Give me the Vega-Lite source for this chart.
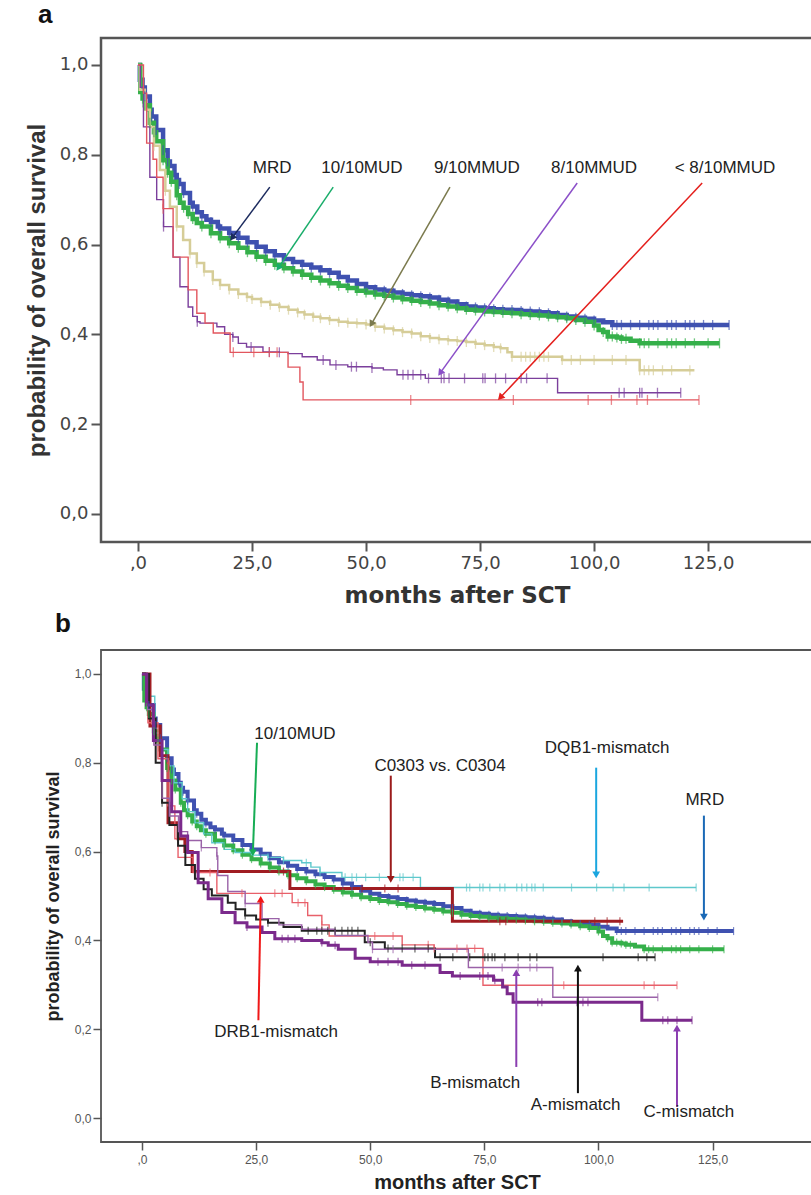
{
"$schema":"https://vega.github.io/schema/vega-lite/v6.json",
"background":"white",
"padding":{"left":24,"top":0,"right":0,"bottom":0},
"bounds":"flush",
"spacing":108,
"config":{"font":"Liberation Sans"},
"resolve":{"scale":{"color":"independent","stroke":"independent","fill":"independent"}},
"datasets":{
"km":[
{"g":"MRD","t":0,"s":1,"c":0},{"g":"MRD","t":0.4,"s":0.967,"c":0},{"g":"MRD","t":1,"s":0.95,"c":0},{"g":"MRD","t":1.5,"s":0.93,"c":1},{"g":"MRD","t":2.6,"s":0.9,"c":0},{"g":"MRD","t":3,"s":0.885,"c":1},{"g":"MRD","t":4,"s":0.855,"c":1},{"g":"MRD","t":5.5,"s":0.81,"c":1},{"g":"MRD","t":6.5,"s":0.785,"c":1},{"g":"MRD","t":7,"s":0.775,"c":0},{"g":"MRD","t":8,"s":0.755,"c":1},{"g":"MRD","t":8.5,"s":0.744,"c":0},{"g":"MRD","t":9,"s":0.735,"c":1},{"g":"MRD","t":10,"s":0.715,"c":1},{"g":"MRD","t":11.4,"s":0.693,"c":0},{"g":"MRD","t":12,"s":0.685,"c":1},{"g":"MRD","t":13,"s":0.672,"c":0},{"g":"MRD","t":14,"s":0.663,"c":1},{"g":"MRD","t":15,"s":0.655,"c":0},{"g":"MRD","t":16,"s":0.65,"c":1},{"g":"MRD","t":17.5,"s":0.64,"c":0},{"g":"MRD","t":18,"s":0.636,"c":1},{"g":"MRD","t":20,"s":0.626,"c":1},{"g":"MRD","t":22,"s":0.615,"c":1},{"g":"MRD","t":24,"s":0.605,"c":1},{"g":"MRD","t":26,"s":0.595,"c":1},{"g":"MRD","t":28,"s":0.585,"c":1},{"g":"MRD","t":30,"s":0.576,"c":1},{"g":"MRD","t":32,"s":0.568,"c":1},{"g":"MRD","t":34,"s":0.561,"c":1},{"g":"MRD","t":36,"s":0.555,"c":1},{"g":"MRD","t":38,"s":0.549,"c":1},{"g":"MRD","t":40,"s":0.543,"c":1},{"g":"MRD","t":42,"s":0.537,"c":1},{"g":"MRD","t":44,"s":0.528,"c":1},{"g":"MRD","t":46,"s":0.52,"c":1},{"g":"MRD","t":48,"s":0.512,"c":1},{"g":"MRD","t":50,"s":0.505,"c":1},{"g":"MRD","t":52,"s":0.5,"c":1},{"g":"MRD","t":54,"s":0.497,"c":1},{"g":"MRD","t":56,"s":0.493,"c":1},{"g":"MRD","t":58,"s":0.49,"c":1},{"g":"MRD","t":60,"s":0.487,"c":1},{"g":"MRD","t":62,"s":0.485,"c":1},{"g":"MRD","t":64,"s":0.482,"c":1},{"g":"MRD","t":66,"s":0.477,"c":1},{"g":"MRD","t":68,"s":0.473,"c":1},{"g":"MRD","t":70,"s":0.467,"c":1},{"g":"MRD","t":72,"s":0.462,"c":1},{"g":"MRD","t":74,"s":0.46,"c":1},{"g":"MRD","t":76,"s":0.458,"c":1},{"g":"MRD","t":78,"s":0.456,"c":1},{"g":"MRD","t":80,"s":0.455,"c":1},{"g":"MRD","t":82,"s":0.454,"c":1},{"g":"MRD","t":84,"s":0.452,"c":1},{"g":"MRD","t":86,"s":0.451,"c":1},{"g":"MRD","t":88,"s":0.449,"c":1},{"g":"MRD","t":90,"s":0.447,"c":1},{"g":"MRD","t":92,"s":0.443,"c":1},{"g":"MRD","t":94,"s":0.44,"c":1},{"g":"MRD","t":96,"s":0.437,"c":1},{"g":"MRD","t":98,"s":0.435,"c":1},{"g":"MRD","t":100,"s":0.431,"c":1},{"g":"MRD","t":102,"s":0.427,"c":0},{"g":"MRD","t":104,"s":0.421,"c":1},{"g":"MRD","t":105,"s":0.421,"c":1},{"g":"MRD","t":106,"s":0.421,"c":1},{"g":"MRD","t":108,"s":0.421,"c":1},{"g":"MRD","t":110,"s":0.421,"c":1},{"g":"MRD","t":112,"s":0.421,"c":1},{"g":"MRD","t":113,"s":0.421,"c":1},{"g":"MRD","t":114,"s":0.421,"c":1},{"g":"MRD","t":116,"s":0.421,"c":1},{"g":"MRD","t":117,"s":0.421,"c":1},{"g":"MRD","t":118,"s":0.421,"c":1},{"g":"MRD","t":120,"s":0.421,"c":1},{"g":"MRD","t":121,"s":0.421,"c":1},{"g":"MRD","t":122,"s":0.421,"c":1},{"g":"MRD","t":124,"s":0.421,"c":1},{"g":"MRD","t":126,"s":0.421,"c":1},{"g":"MRD","t":129.6,"s":0.421,"c":1},
{"g":"10/10MUD","t":0,"s":1,"c":0},{"g":"10/10MUD","t":0.5,"s":0.94,"c":0},{"g":"10/10MUD","t":1,"s":0.925,"c":1},{"g":"10/10MUD","t":1.5,"s":0.91,"c":1},{"g":"10/10MUD","t":2.6,"s":0.871,"c":1},{"g":"10/10MUD","t":3.5,"s":0.85,"c":1},{"g":"10/10MUD","t":4,"s":0.83,"c":0},{"g":"10/10MUD","t":5.5,"s":0.788,"c":1},{"g":"10/10MUD","t":6.5,"s":0.76,"c":1},{"g":"10/10MUD","t":7.3,"s":0.74,"c":1},{"g":"10/10MUD","t":8.5,"s":0.71,"c":1},{"g":"10/10MUD","t":9.2,"s":0.693,"c":0},{"g":"10/10MUD","t":10,"s":0.682,"c":1},{"g":"10/10MUD","t":11,"s":0.668,"c":1},{"g":"10/10MUD","t":12,"s":0.657,"c":1},{"g":"10/10MUD","t":12.9,"s":0.648,"c":0},{"g":"10/10MUD","t":14,"s":0.64,"c":1},{"g":"10/10MUD","t":16,"s":0.625,"c":1},{"g":"10/10MUD","t":18,"s":0.614,"c":1},{"g":"10/10MUD","t":20,"s":0.603,"c":1},{"g":"10/10MUD","t":22,"s":0.593,"c":1},{"g":"10/10MUD","t":24,"s":0.583,"c":1},{"g":"10/10MUD","t":26,"s":0.573,"c":1},{"g":"10/10MUD","t":28,"s":0.564,"c":1},{"g":"10/10MUD","t":30,"s":0.555,"c":1},{"g":"10/10MUD","t":32,"s":0.547,"c":1},{"g":"10/10MUD","t":34,"s":0.54,"c":1},{"g":"10/10MUD","t":36,"s":0.533,"c":1},{"g":"10/10MUD","t":38,"s":0.526,"c":1},{"g":"10/10MUD","t":40,"s":0.52,"c":1},{"g":"10/10MUD","t":42,"s":0.514,"c":1},{"g":"10/10MUD","t":44,"s":0.508,"c":1},{"g":"10/10MUD","t":46,"s":0.503,"c":1},{"g":"10/10MUD","t":48,"s":0.497,"c":1},{"g":"10/10MUD","t":50,"s":0.493,"c":1},{"g":"10/10MUD","t":52,"s":0.489,"c":1},{"g":"10/10MUD","t":54,"s":0.486,"c":1},{"g":"10/10MUD","t":56,"s":0.482,"c":1},{"g":"10/10MUD","t":58,"s":0.478,"c":1},{"g":"10/10MUD","t":60,"s":0.475,"c":1},{"g":"10/10MUD","t":62,"s":0.472,"c":1},{"g":"10/10MUD","t":64,"s":0.469,"c":1},{"g":"10/10MUD","t":66,"s":0.465,"c":1},{"g":"10/10MUD","t":68,"s":0.462,"c":1},{"g":"10/10MUD","t":70,"s":0.458,"c":1},{"g":"10/10MUD","t":72,"s":0.455,"c":1},{"g":"10/10MUD","t":74,"s":0.453,"c":1},{"g":"10/10MUD","t":76,"s":0.451,"c":1},{"g":"10/10MUD","t":78,"s":0.45,"c":1},{"g":"10/10MUD","t":80,"s":0.448,"c":1},{"g":"10/10MUD","t":82,"s":0.447,"c":1},{"g":"10/10MUD","t":84,"s":0.445,"c":1},{"g":"10/10MUD","t":86,"s":0.443,"c":1},{"g":"10/10MUD","t":88,"s":0.442,"c":1},{"g":"10/10MUD","t":90,"s":0.44,"c":1},{"g":"10/10MUD","t":92,"s":0.438,"c":1},{"g":"10/10MUD","t":94,"s":0.436,"c":1},{"g":"10/10MUD","t":96,"s":0.432,"c":1},{"g":"10/10MUD","t":98,"s":0.428,"c":1},{"g":"10/10MUD","t":100,"s":0.42,"c":1},{"g":"10/10MUD","t":101,"s":0.41,"c":0},{"g":"10/10MUD","t":102,"s":0.405,"c":1},{"g":"10/10MUD","t":103,"s":0.395,"c":1},{"g":"10/10MUD","t":104,"s":0.395,"c":1},{"g":"10/10MUD","t":105,"s":0.393,"c":1},{"g":"10/10MUD","t":106,"s":0.39,"c":1},{"g":"10/10MUD","t":107,"s":0.39,"c":1},{"g":"10/10MUD","t":108,"s":0.386,"c":0},{"g":"10/10MUD","t":110,"s":0.38,"c":1},{"g":"10/10MUD","t":111,"s":0.38,"c":1},{"g":"10/10MUD","t":112,"s":0.38,"c":1},{"g":"10/10MUD","t":114,"s":0.38,"c":1},{"g":"10/10MUD","t":116,"s":0.38,"c":1},{"g":"10/10MUD","t":117,"s":0.38,"c":1},{"g":"10/10MUD","t":118,"s":0.38,"c":1},{"g":"10/10MUD","t":120,"s":0.38,"c":1},{"g":"10/10MUD","t":122,"s":0.38,"c":1},{"g":"10/10MUD","t":125,"s":0.38,"c":1},{"g":"10/10MUD","t":127.5,"s":0.38,"c":1},
{"g":"9/10MMUD","t":0,"s":1,"c":0},{"g":"9/10MMUD","t":0.4,"s":0.945,"c":0},{"g":"9/10MMUD","t":1.5,"s":0.9,"c":0},{"g":"9/10MMUD","t":2.6,"s":0.862,"c":0},{"g":"9/10MMUD","t":3.5,"s":0.82,"c":1},{"g":"9/10MMUD","t":4.8,"s":0.766,"c":0},{"g":"9/10MMUD","t":6,"s":0.72,"c":1},{"g":"9/10MMUD","t":7,"s":0.684,"c":0},{"g":"9/10MMUD","t":8.5,"s":0.64,"c":1},{"g":"9/10MMUD","t":9.9,"s":0.61,"c":0},{"g":"9/10MMUD","t":11.4,"s":0.58,"c":1},{"g":"9/10MMUD","t":12.9,"s":0.559,"c":1},{"g":"9/10MMUD","t":14.5,"s":0.54,"c":1},{"g":"9/10MMUD","t":16.4,"s":0.521,"c":1},{"g":"9/10MMUD","t":18,"s":0.51,"c":1},{"g":"9/10MMUD","t":20,"s":0.5,"c":1},{"g":"9/10MMUD","t":22,"s":0.49,"c":1},{"g":"9/10MMUD","t":23.9,"s":0.483,"c":1},{"g":"9/10MMUD","t":25,"s":0.479,"c":1},{"g":"9/10MMUD","t":27,"s":0.472,"c":1},{"g":"9/10MMUD","t":29,"s":0.466,"c":1},{"g":"9/10MMUD","t":31,"s":0.461,"c":1},{"g":"9/10MMUD","t":33,"s":0.455,"c":1},{"g":"9/10MMUD","t":35,"s":0.449,"c":1},{"g":"9/10MMUD","t":36.5,"s":0.444,"c":1},{"g":"9/10MMUD","t":38.4,"s":0.439,"c":1},{"g":"9/10MMUD","t":40,"s":0.436,"c":1},{"g":"9/10MMUD","t":42,"s":0.432,"c":1},{"g":"9/10MMUD","t":44,"s":0.428,"c":1},{"g":"9/10MMUD","t":46,"s":0.426,"c":1},{"g":"9/10MMUD","t":48,"s":0.425,"c":1},{"g":"9/10MMUD","t":50,"s":0.422,"c":1},{"g":"9/10MMUD","t":52,"s":0.417,"c":1},{"g":"9/10MMUD","t":54,"s":0.413,"c":1},{"g":"9/10MMUD","t":56,"s":0.409,"c":1},{"g":"9/10MMUD","t":58,"s":0.405,"c":1},{"g":"9/10MMUD","t":60,"s":0.402,"c":1},{"g":"9/10MMUD","t":62,"s":0.396,"c":1},{"g":"9/10MMUD","t":64,"s":0.392,"c":1},{"g":"9/10MMUD","t":66,"s":0.389,"c":1},{"g":"9/10MMUD","t":68,"s":0.387,"c":1},{"g":"9/10MMUD","t":70,"s":0.385,"c":1},{"g":"9/10MMUD","t":72,"s":0.383,"c":1},{"g":"9/10MMUD","t":74,"s":0.379,"c":1},{"g":"9/10MMUD","t":76,"s":0.376,"c":1},{"g":"9/10MMUD","t":78,"s":0.372,"c":1},{"g":"9/10MMUD","t":79.5,"s":0.369,"c":1},{"g":"9/10MMUD","t":81,"s":0.36,"c":0},{"g":"9/10MMUD","t":82,"s":0.35,"c":1},{"g":"9/10MMUD","t":84,"s":0.35,"c":1},{"g":"9/10MMUD","t":85,"s":0.35,"c":1},{"g":"9/10MMUD","t":86,"s":0.35,"c":1},{"g":"9/10MMUD","t":87,"s":0.35,"c":1},{"g":"9/10MMUD","t":88,"s":0.35,"c":1},{"g":"9/10MMUD","t":89,"s":0.35,"c":1},{"g":"9/10MMUD","t":90,"s":0.35,"c":1},{"g":"9/10MMUD","t":92,"s":0.35,"c":0},{"g":"9/10MMUD","t":93,"s":0.343,"c":1},{"g":"9/10MMUD","t":95,"s":0.343,"c":1},{"g":"9/10MMUD","t":97,"s":0.343,"c":1},{"g":"9/10MMUD","t":100,"s":0.343,"c":1},{"g":"9/10MMUD","t":104,"s":0.343,"c":1},{"g":"9/10MMUD","t":107,"s":0.343,"c":1},{"g":"9/10MMUD","t":109,"s":0.343,"c":0},{"g":"9/10MMUD","t":110,"s":0.32,"c":1},{"g":"9/10MMUD","t":111,"s":0.32,"c":1},{"g":"9/10MMUD","t":112,"s":0.32,"c":1},{"g":"9/10MMUD","t":113,"s":0.32,"c":1},{"g":"9/10MMUD","t":115,"s":0.32,"c":1},{"g":"9/10MMUD","t":117,"s":0.32,"c":1},{"g":"9/10MMUD","t":121,"s":0.32,"c":1},{"g":"9/10MMUD","t":122,"s":0.32,"c":0},
{"g":"8/10MMUD","t":0,"s":1,"c":0},{"g":"8/10MMUD","t":0.5,"s":0.95,"c":0},{"g":"8/10MMUD","t":1.2,"s":0.862,"c":0},{"g":"8/10MMUD","t":2.6,"s":0.75,"c":0},{"g":"8/10MMUD","t":4.1,"s":0.7,"c":0},{"g":"8/10MMUD","t":5.6,"s":0.64,"c":1},{"g":"8/10MMUD","t":7.7,"s":0.572,"c":0},{"g":"8/10MMUD","t":9.2,"s":0.506,"c":0},{"g":"8/10MMUD","t":11,"s":0.461,"c":0},{"g":"8/10MMUD","t":12,"s":0.44,"c":0},{"g":"8/10MMUD","t":13,"s":0.428,"c":1},{"g":"8/10MMUD","t":13.6,"s":0.425,"c":0},{"g":"8/10MMUD","t":17.3,"s":0.417,"c":0},{"g":"8/10MMUD","t":19,"s":0.4,"c":0},{"g":"8/10MMUD","t":20.8,"s":0.394,"c":1},{"g":"8/10MMUD","t":22,"s":0.38,"c":0},{"g":"8/10MMUD","t":23.8,"s":0.372,"c":0},{"g":"8/10MMUD","t":24.8,"s":0.372,"c":1},{"g":"8/10MMUD","t":27.4,"s":0.361,"c":0},{"g":"8/10MMUD","t":28.8,"s":0.361,"c":1},{"g":"8/10MMUD","t":31,"s":0.36,"c":1},{"g":"8/10MMUD","t":32.9,"s":0.357,"c":0},{"g":"8/10MMUD","t":36,"s":0.35,"c":0},{"g":"8/10MMUD","t":39.3,"s":0.343,"c":0},{"g":"8/10MMUD","t":40.6,"s":0.343,"c":1},{"g":"8/10MMUD","t":42.1,"s":0.332,"c":0},{"g":"8/10MMUD","t":43.4,"s":0.332,"c":1},{"g":"8/10MMUD","t":46,"s":0.328,"c":0},{"g":"8/10MMUD","t":46.8,"s":0.328,"c":1},{"g":"8/10MMUD","t":47.9,"s":0.328,"c":1},{"g":"8/10MMUD","t":51.3,"s":0.325,"c":1},{"g":"8/10MMUD","t":53.8,"s":0.321,"c":0},{"g":"8/10MMUD","t":56.8,"s":0.31,"c":0},{"g":"8/10MMUD","t":58.1,"s":0.31,"c":1},{"g":"8/10MMUD","t":59.2,"s":0.31,"c":1},{"g":"8/10MMUD","t":60.3,"s":0.31,"c":1},{"g":"8/10MMUD","t":62,"s":0.31,"c":1},{"g":"8/10MMUD","t":63,"s":0.302,"c":0},{"g":"8/10MMUD","t":63.7,"s":0.302,"c":1},{"g":"8/10MMUD","t":66.5,"s":0.302,"c":1},{"g":"8/10MMUD","t":67.1,"s":0.302,"c":1},{"g":"8/10MMUD","t":68.2,"s":0.302,"c":1},{"g":"8/10MMUD","t":71.6,"s":0.302,"c":1},{"g":"8/10MMUD","t":75.6,"s":0.302,"c":1},{"g":"8/10MMUD","t":76.1,"s":0.302,"c":1},{"g":"8/10MMUD","t":78.4,"s":0.302,"c":1},{"g":"8/10MMUD","t":80.6,"s":0.302,"c":1},{"g":"8/10MMUD","t":84,"s":0.302,"c":1},{"g":"8/10MMUD","t":85.2,"s":0.302,"c":1},{"g":"8/10MMUD","t":89.7,"s":0.302,"c":1},{"g":"8/10MMUD","t":91.4,"s":0.302,"c":0},{"g":"8/10MMUD","t":92,"s":0.27,"c":0},{"g":"8/10MMUD","t":105.5,"s":0.27,"c":1},{"g":"8/10MMUD","t":106.6,"s":0.27,"c":1},{"g":"8/10MMUD","t":110,"s":0.27,"c":1},{"g":"8/10MMUD","t":110.5,"s":0.27,"c":1},{"g":"8/10MMUD","t":113.9,"s":0.27,"c":1},{"g":"8/10MMUD","t":119,"s":0.27,"c":1},
{"g":"<8/10MMUD","t":0,"s":1,"c":0},{"g":"<8/10MMUD","t":1.2,"s":0.937,"c":0},{"g":"<8/10MMUD","t":1.9,"s":0.826,"c":0},{"g":"<8/10MMUD","t":3.3,"s":0.79,"c":0},{"g":"<8/10MMUD","t":4.1,"s":0.75,"c":0},{"g":"<8/10MMUD","t":5.5,"s":0.68,"c":1},{"g":"<8/10MMUD","t":7.7,"s":0.572,"c":0},{"g":"<8/10MMUD","t":11,"s":0.499,"c":0},{"g":"<8/10MMUD","t":12.9,"s":0.447,"c":0},{"g":"<8/10MMUD","t":14.7,"s":0.425,"c":0},{"g":"<8/10MMUD","t":16.5,"s":0.403,"c":0},{"g":"<8/10MMUD","t":20.2,"s":0.36,"c":0},{"g":"<8/10MMUD","t":20.9,"s":0.36,"c":1},{"g":"<8/10MMUD","t":25.4,"s":0.36,"c":1},{"g":"<8/10MMUD","t":28.8,"s":0.36,"c":1},{"g":"<8/10MMUD","t":30.5,"s":0.36,"c":1},{"g":"<8/10MMUD","t":32.9,"s":0.327,"c":0},{"g":"<8/10MMUD","t":35.5,"s":0.294,"c":0},{"g":"<8/10MMUD","t":36.2,"s":0.254,"c":0},{"g":"<8/10MMUD","t":59.8,"s":0.254,"c":1},{"g":"<8/10MMUD","t":82.3,"s":0.254,"c":1},{"g":"<8/10MMUD","t":98.7,"s":0.254,"c":1},{"g":"<8/10MMUD","t":103.8,"s":0.254,"c":1},{"g":"<8/10MMUD","t":109.4,"s":0.254,"c":1},{"g":"<8/10MMUD","t":111.7,"s":0.254,"c":1},{"g":"<8/10MMUD","t":123,"s":0.254,"c":1},
{"g":"DQB1-mismatch","t":0,"s":1,"c":0},{"g":"DQB1-mismatch","t":1,"s":0.95,"c":0},{"g":"DQB1-mismatch","t":2.8,"s":0.867,"c":0},{"g":"DQB1-mismatch","t":4,"s":0.83,"c":0},{"g":"DQB1-mismatch","t":5.7,"s":0.793,"c":0},{"g":"DQB1-mismatch","t":7,"s":0.755,"c":0},{"g":"DQB1-mismatch","t":8.8,"s":0.719,"c":0},{"g":"DQB1-mismatch","t":10,"s":0.69,"c":0},{"g":"DQB1-mismatch","t":11.6,"s":0.665,"c":0},{"g":"DQB1-mismatch","t":13.5,"s":0.64,"c":0},{"g":"DQB1-mismatch","t":15.3,"s":0.62,"c":0},{"g":"DQB1-mismatch","t":18,"s":0.605,"c":0},{"g":"DQB1-mismatch","t":20.4,"s":0.598,"c":0},{"g":"DQB1-mismatch","t":24,"s":0.592,"c":0},{"g":"DQB1-mismatch","t":27.6,"s":0.587,"c":1},{"g":"DQB1-mismatch","t":31,"s":0.58,"c":1},{"g":"DQB1-mismatch","t":35,"s":0.575,"c":0},{"g":"DQB1-mismatch","t":36,"s":0.575,"c":1},{"g":"DQB1-mismatch","t":37,"s":0.565,"c":0},{"g":"DQB1-mismatch","t":39,"s":0.553,"c":1},{"g":"DQB1-mismatch","t":43.8,"s":0.542,"c":0},{"g":"DQB1-mismatch","t":44.5,"s":0.542,"c":1},{"g":"DQB1-mismatch","t":46,"s":0.542,"c":1},{"g":"DQB1-mismatch","t":47,"s":0.542,"c":1},{"g":"DQB1-mismatch","t":49,"s":0.542,"c":1},{"g":"DQB1-mismatch","t":52,"s":0.542,"c":1},{"g":"DQB1-mismatch","t":56.5,"s":0.542,"c":1},{"g":"DQB1-mismatch","t":57.2,"s":0.542,"c":1},{"g":"DQB1-mismatch","t":59.4,"s":0.542,"c":1},{"g":"DQB1-mismatch","t":61,"s":0.519,"c":0},{"g":"DQB1-mismatch","t":71.1,"s":0.519,"c":1},{"g":"DQB1-mismatch","t":71.8,"s":0.519,"c":1},{"g":"DQB1-mismatch","t":74,"s":0.519,"c":1},{"g":"DQB1-mismatch","t":74.7,"s":0.519,"c":1},{"g":"DQB1-mismatch","t":76.2,"s":0.519,"c":1},{"g":"DQB1-mismatch","t":78.4,"s":0.519,"c":1},{"g":"DQB1-mismatch","t":79.5,"s":0.519,"c":1},{"g":"DQB1-mismatch","t":82.1,"s":0.519,"c":1},{"g":"DQB1-mismatch","t":83.2,"s":0.519,"c":1},{"g":"DQB1-mismatch","t":84.3,"s":0.519,"c":1},{"g":"DQB1-mismatch","t":85.4,"s":0.519,"c":1},{"g":"DQB1-mismatch","t":86.1,"s":0.519,"c":1},{"g":"DQB1-mismatch","t":87.9,"s":0.519,"c":1},{"g":"DQB1-mismatch","t":94.1,"s":0.519,"c":1},{"g":"DQB1-mismatch","t":99.6,"s":0.519,"c":1},{"g":"DQB1-mismatch","t":103.2,"s":0.519,"c":1},{"g":"DQB1-mismatch","t":105.6,"s":0.519,"c":1},{"g":"DQB1-mismatch","t":111.1,"s":0.519,"c":1},{"g":"DQB1-mismatch","t":121.4,"s":0.519,"c":1},
{"g":"C0303 vs. C0304","t":0,"s":1,"c":0},{"g":"C0303 vs. C0304","t":1.75,"s":0.883,"c":0},{"g":"C0303 vs. C0304","t":4,"s":0.816,"c":0},{"g":"C0303 vs. C0304","t":5.7,"s":0.665,"c":0},{"g":"C0303 vs. C0304","t":7.9,"s":0.629,"c":0},{"g":"C0303 vs. C0304","t":9.4,"s":0.6,"c":0},{"g":"C0303 vs. C0304","t":11,"s":0.555,"c":0},{"g":"C0303 vs. C0304","t":31,"s":0.555,"c":1},{"g":"C0303 vs. C0304","t":32.4,"s":0.517,"c":0},{"g":"C0303 vs. C0304","t":48.2,"s":0.517,"c":1},{"g":"C0303 vs. C0304","t":53.2,"s":0.517,"c":1},{"g":"C0303 vs. C0304","t":56.1,"s":0.517,"c":1},{"g":"C0303 vs. C0304","t":68,"s":0.443,"c":0},{"g":"C0303 vs. C0304","t":78.4,"s":0.443,"c":1},{"g":"C0303 vs. C0304","t":79.7,"s":0.443,"c":1},{"g":"C0303 vs. C0304","t":99.2,"s":0.443,"c":1},{"g":"C0303 vs. C0304","t":101.9,"s":0.443,"c":1},{"g":"C0303 vs. C0304","t":104.7,"s":0.443,"c":1},{"g":"C0303 vs. C0304","t":105.4,"s":0.443,"c":0},
{"g":"DRB1-mismatch","t":0,"s":1,"c":0},{"g":"DRB1-mismatch","t":1.3,"s":0.89,"c":0},{"g":"DRB1-mismatch","t":3.5,"s":0.809,"c":0},{"g":"DRB1-mismatch","t":5.7,"s":0.703,"c":0},{"g":"DRB1-mismatch","t":7.2,"s":0.629,"c":0},{"g":"DRB1-mismatch","t":7.9,"s":0.587,"c":0},{"g":"DRB1-mismatch","t":11.2,"s":0.553,"c":0},{"g":"DRB1-mismatch","t":14.9,"s":0.553,"c":1},{"g":"DRB1-mismatch","t":16.4,"s":0.506,"c":0},{"g":"DRB1-mismatch","t":21.9,"s":0.506,"c":1},{"g":"DRB1-mismatch","t":29.1,"s":0.506,"c":1},{"g":"DRB1-mismatch","t":30.7,"s":0.506,"c":1},{"g":"DRB1-mismatch","t":32.9,"s":0.485,"c":0},{"g":"DRB1-mismatch","t":34.2,"s":0.485,"c":1},{"g":"DRB1-mismatch","t":35.7,"s":0.485,"c":1},{"g":"DRB1-mismatch","t":36.3,"s":0.456,"c":0},{"g":"DRB1-mismatch","t":39.4,"s":0.435,"c":1},{"g":"DRB1-mismatch","t":41,"s":0.41,"c":0},{"g":"DRB1-mismatch","t":51,"s":0.41,"c":1},{"g":"DRB1-mismatch","t":55,"s":0.41,"c":1},{"g":"DRB1-mismatch","t":57,"s":0.39,"c":0},{"g":"DRB1-mismatch","t":62.7,"s":0.39,"c":1},{"g":"DRB1-mismatch","t":64,"s":0.382,"c":1},{"g":"DRB1-mismatch","t":69,"s":0.382,"c":1},{"g":"DRB1-mismatch","t":71.2,"s":0.382,"c":1},{"g":"DRB1-mismatch","t":72.9,"s":0.382,"c":1},{"g":"DRB1-mismatch","t":74.7,"s":0.299,"c":0},{"g":"DRB1-mismatch","t":92.4,"s":0.299,"c":1},{"g":"DRB1-mismatch","t":110,"s":0.299,"c":1},{"g":"DRB1-mismatch","t":112.2,"s":0.299,"c":1},{"g":"DRB1-mismatch","t":117.2,"s":0.299,"c":1},
{"g":"A-mismatch","t":0,"s":1,"c":0},{"g":"A-mismatch","t":1.5,"s":0.9,"c":0},{"g":"A-mismatch","t":3,"s":0.8,"c":0},{"g":"A-mismatch","t":4.4,"s":0.71,"c":1},{"g":"A-mismatch","t":6,"s":0.66,"c":0},{"g":"A-mismatch","t":7.9,"s":0.613,"c":0},{"g":"A-mismatch","t":9.5,"s":0.57,"c":0},{"g":"A-mismatch","t":11.6,"s":0.539,"c":0},{"g":"A-mismatch","t":13.5,"s":0.515,"c":0},{"g":"A-mismatch","t":15.3,"s":0.501,"c":0},{"g":"A-mismatch","t":18.8,"s":0.485,"c":0},{"g":"A-mismatch","t":20.5,"s":0.47,"c":0},{"g":"A-mismatch","t":22.6,"s":0.456,"c":1},{"g":"A-mismatch","t":25,"s":0.447,"c":0},{"g":"A-mismatch","t":27.6,"s":0.44,"c":1},{"g":"A-mismatch","t":31,"s":0.43,"c":0},{"g":"A-mismatch","t":35,"s":0.422,"c":0},{"g":"A-mismatch","t":36.4,"s":0.422,"c":1},{"g":"A-mismatch","t":38.3,"s":0.422,"c":1},{"g":"A-mismatch","t":39.4,"s":0.422,"c":1},{"g":"A-mismatch","t":40.7,"s":0.422,"c":1},{"g":"A-mismatch","t":42.3,"s":0.422,"c":1},{"g":"A-mismatch","t":43.8,"s":0.422,"c":1},{"g":"A-mismatch","t":45.1,"s":0.422,"c":1},{"g":"A-mismatch","t":46,"s":0.422,"c":1},{"g":"A-mismatch","t":47.3,"s":0.422,"c":1},{"g":"A-mismatch","t":48.8,"s":0.396,"c":0},{"g":"A-mismatch","t":50,"s":0.396,"c":1},{"g":"A-mismatch","t":53.2,"s":0.382,"c":0},{"g":"A-mismatch","t":53.9,"s":0.382,"c":1},{"g":"A-mismatch","t":57,"s":0.382,"c":1},{"g":"A-mismatch","t":59.8,"s":0.382,"c":1},{"g":"A-mismatch","t":62.7,"s":0.382,"c":1},{"g":"A-mismatch","t":64.2,"s":0.362,"c":0},{"g":"A-mismatch","t":65.3,"s":0.362,"c":1},{"g":"A-mismatch","t":68.1,"s":0.362,"c":1},{"g":"A-mismatch","t":71.8,"s":0.362,"c":1},{"g":"A-mismatch","t":75.1,"s":0.362,"c":1},{"g":"A-mismatch","t":75.8,"s":0.362,"c":1},{"g":"A-mismatch","t":76.7,"s":0.362,"c":1},{"g":"A-mismatch","t":77.3,"s":0.362,"c":1},{"g":"A-mismatch","t":79.5,"s":0.362,"c":1},{"g":"A-mismatch","t":82.4,"s":0.362,"c":1},{"g":"A-mismatch","t":85,"s":0.362,"c":1},{"g":"A-mismatch","t":86.5,"s":0.362,"c":1},{"g":"A-mismatch","t":101,"s":0.362,"c":1},{"g":"A-mismatch","t":108.7,"s":0.362,"c":1},{"g":"A-mismatch","t":110.6,"s":0.362,"c":1},{"g":"A-mismatch","t":112.4,"s":0.362,"c":1},
{"g":"B-mismatch","t":0,"s":1,"c":0},{"g":"B-mismatch","t":1.2,"s":0.92,"c":0},{"g":"B-mismatch","t":2.6,"s":0.84,"c":0},{"g":"B-mismatch","t":4.4,"s":0.72,"c":0},{"g":"B-mismatch","t":6,"s":0.68,"c":0},{"g":"B-mismatch","t":8,"s":0.645,"c":0},{"g":"B-mismatch","t":10,"s":0.625,"c":0},{"g":"B-mismatch","t":13,"s":0.609,"c":1},{"g":"B-mismatch","t":16.4,"s":0.59,"c":1},{"g":"B-mismatch","t":16.6,"s":0.546,"c":0},{"g":"B-mismatch","t":18.8,"s":0.51,"c":0},{"g":"B-mismatch","t":22.6,"s":0.483,"c":1},{"g":"B-mismatch","t":26.3,"s":0.449,"c":0},{"g":"B-mismatch","t":30,"s":0.435,"c":0},{"g":"B-mismatch","t":35,"s":0.425,"c":0},{"g":"B-mismatch","t":42.3,"s":0.411,"c":0},{"g":"B-mismatch","t":49.5,"s":0.396,"c":0},{"g":"B-mismatch","t":50.5,"s":0.38,"c":1},{"g":"B-mismatch","t":55,"s":0.38,"c":1},{"g":"B-mismatch","t":71.5,"s":0.339,"c":0},{"g":"B-mismatch","t":78.9,"s":0.339,"c":1},{"g":"B-mismatch","t":82.4,"s":0.339,"c":1},{"g":"B-mismatch","t":85,"s":0.339,"c":1},{"g":"B-mismatch","t":86.5,"s":0.339,"c":1},{"g":"B-mismatch","t":90,"s":0.272,"c":0},{"g":"B-mismatch","t":113,"s":0.272,"c":1},
{"g":"C-mismatch","t":0,"s":1,"c":0},{"g":"C-mismatch","t":1,"s":0.93,"c":0},{"g":"C-mismatch","t":2.5,"s":0.85,"c":0},{"g":"C-mismatch","t":4.4,"s":0.76,"c":0},{"g":"C-mismatch","t":6.5,"s":0.69,"c":0},{"g":"C-mismatch","t":8.5,"s":0.635,"c":0},{"g":"C-mismatch","t":10,"s":0.598,"c":0},{"g":"C-mismatch","t":12.3,"s":0.53,"c":0},{"g":"C-mismatch","t":14.5,"s":0.494,"c":0},{"g":"C-mismatch","t":17.5,"s":0.463,"c":0},{"g":"C-mismatch","t":20.4,"s":0.44,"c":0},{"g":"C-mismatch","t":23,"s":0.43,"c":1},{"g":"C-mismatch","t":26.3,"s":0.418,"c":0},{"g":"C-mismatch","t":29.1,"s":0.404,"c":0},{"g":"C-mismatch","t":30.7,"s":0.404,"c":1},{"g":"C-mismatch","t":32,"s":0.404,"c":1},{"g":"C-mismatch","t":33.5,"s":0.404,"c":1},{"g":"C-mismatch","t":35,"s":0.4,"c":0},{"g":"C-mismatch","t":39.4,"s":0.395,"c":1},{"g":"C-mismatch","t":40.8,"s":0.389,"c":0},{"g":"C-mismatch","t":42.3,"s":0.389,"c":1},{"g":"C-mismatch","t":43,"s":0.38,"c":0},{"g":"C-mismatch","t":46.7,"s":0.36,"c":0},{"g":"C-mismatch","t":50,"s":0.352,"c":0},{"g":"C-mismatch","t":51.7,"s":0.352,"c":1},{"g":"C-mismatch","t":53.9,"s":0.352,"c":1},{"g":"C-mismatch","t":56.1,"s":0.352,"c":1},{"g":"C-mismatch","t":57,"s":0.344,"c":0},{"g":"C-mismatch","t":59.1,"s":0.344,"c":1},{"g":"C-mismatch","t":62,"s":0.344,"c":1},{"g":"C-mismatch","t":65.3,"s":0.328,"c":0},{"g":"C-mismatch","t":68,"s":0.32,"c":0},{"g":"C-mismatch","t":69.7,"s":0.32,"c":1},{"g":"C-mismatch","t":74,"s":0.32,"c":1},{"g":"C-mismatch","t":75.8,"s":0.32,"c":1},{"g":"C-mismatch","t":77,"s":0.31,"c":0},{"g":"C-mismatch","t":77.3,"s":0.31,"c":1},{"g":"C-mismatch","t":79,"s":0.295,"c":0},{"g":"C-mismatch","t":80,"s":0.28,"c":0},{"g":"C-mismatch","t":81.3,"s":0.261,"c":0},{"g":"C-mismatch","t":86.7,"s":0.261,"c":1},{"g":"C-mismatch","t":87.6,"s":0.261,"c":1},{"g":"C-mismatch","t":95.3,"s":0.261,"c":1},{"g":"C-mismatch","t":96.6,"s":0.261,"c":1},{"g":"C-mismatch","t":97.7,"s":0.261,"c":1},{"g":"C-mismatch","t":109.5,"s":0.22,"c":0},{"g":"C-mismatch","t":114.1,"s":0.22,"c":1},{"g":"C-mismatch","t":115.2,"s":0.22,"c":1},{"g":"C-mismatch","t":117.2,"s":0.22,"c":1},{"g":"C-mismatch","t":120.5,"s":0.22,"c":1}
],
"ann":[
{"p":"a","lab":"MRD","tx":29.4,"ty":0.771,"x":28.9,"y":0.728,"x2":20.8,"y2":0.617},
{"p":"a","lab":"10/10MUD","tx":49.1,"ty":0.771,"x":42.8,"y":0.728,"x2":30.9,"y2":0.55},
{"p":"a","lab":"9/10MMUD","tx":74.3,"ty":0.771,"x":68.4,"y":0.728,"x2":51.3,"y2":0.425},
{"p":"a","lab":"8/10MMUD","tx":100,"ty":0.771,"x":96.3,"y":0.737,"x2":66.4,"y2":0.316},
{"p":"a","lab":"< 8/10MMUD","tx":128.7,"ty":0.771,"x":123.7,"y":0.737,"x2":79.6,"y2":0.261},
{"p":"b","lab":"10/10MUD","tx":33.5,"ty":0.865,"x":25.2,"y":0.845,"x2":24.3,"y2":0.6},
{"p":"b","lab":"C0303 vs. C0304","tx":65.3,"ty":0.793,"x":54.5,"y":0.771,"x2":54.5,"y2":0.54},
{"p":"b","lab":"DQB1-mismatch","tx":101.9,"ty":0.834,"x":99.5,"y":0.789,"x2":99.5,"y2":0.55},
{"p":"b","lab":"MRD","tx":123.3,"ty":0.717,"x":123.1,"y":0.681,"x2":123.1,"y2":0.455},
{"p":"b","lab":"DRB1-mismatch","tx":29.4,"ty":0.193,"x":25.5,"y":0.22,"x2":26,"y2":0.49},
{"p":"b","lab":"B-mismatch","tx":73,"ty":0.079,"x":82,"y":0.115,"x2":82,"y2":0.325},
{"p":"b","lab":"A-mismatch","tx":95,"ty":0.029,"x":95.5,"y":0.056,"x2":95.5,"y2":0.335},
{"p":"b","lab":"C-mismatch","tx":119.8,"ty":0.0135,"x":117.2,"y":0.025,"x2":117.2,"y2":0.2}
]
},
"vconcat":[
{
"width":712,"height":504,
"view":{"stroke":"#555","strokeWidth":2.5},
"title":{"text":"a","anchor":"start","frame":"group","fontSize":26,"fontWeight":"bold","font":"Liberation Sans","color":"#111","dx":-63,"offset":10},
"layer":[
{"data":{"name":"km"},
"transform":[{"filter":{"field":"g","oneOf":["MRD","10/10MUD","9/10MMUD","8/10MMUD","<8/10MMUD"]}}],
"mark":{"type":"line","interpolate":"step-after"},
"encoding":{
"x":{"field":"t","type":"quantitative","scale":{"domain":[-8.11,148.0],"nice":false,"zero":false},"title":"months after SCT",
"axis":{"values":[0,25,50,75,100,125],"labelExpr":"datum.value==0 ? ',0' : replace(format(datum.value,'.1f'),'.',',')","grid":false,"domain":false,"tickSize":9,"tickColor":"#555","tickWidth":2,"labelFont":"DejaVu Sans","labelFontSize":18,"labelColor":"#444","labelPadding":3,"titleFont":"DejaVu Sans","titleFontWeight":"bold","titleFontSize":23,"titleColor":"#333","titlePadding":12}},
"y":{"field":"s","type":"quantitative","scale":{"domain":[-0.0624,1.06],"nice":false,"zero":false},"title":"probability of overall survival",
"axis":{"values":[0,0.2,0.4,0.6,0.8,1.0],"labelExpr":"replace(format(datum.value,'.1f'),'.',',')","grid":false,"domain":false,"tickSize":10,"tickColor":"#555","tickWidth":2,"labelFont":"DejaVu Sans","labelFontSize":18,"labelColor":"#444","labelPadding":3,"titleFont":"Liberation Sans","titleFontWeight":"bold","titleFontSize":24,"titleColor":"#333","titlePadding":10}},
"color":{"field":"g","type":"nominal","scale":{"domain":["MRD","10/10MUD","9/10MMUD","8/10MMUD","<8/10MMUD"],"range":["#3f51b0","#35b04a","#d6cd98","#7b3f9c","#e2565e"]},"legend":null},
"strokeWidth":{"condition":[{"test":"datum.g=='MRD' || datum.g=='10/10MUD'","value":4.5},{"test":"datum.g=='9/10MMUD'","value":2.5}],"value":1.4}
}},
{"data":{"name":"km"},
"transform":[{"filter":{"field":"g","oneOf":["MRD","10/10MUD","9/10MMUD","8/10MMUD","<8/10MMUD"]}},{"filter":"datum.c==1"}],
"mark":{"type":"tick","orient":"vertical","thickness":1.3,"size":10},
"encoding":{
"x":{"field":"t","type":"quantitative","scale":{"domain":[-8.11,148.0],"nice":false,"zero":false},"title":"months after SCT"},
"y":{"field":"s","type":"quantitative","scale":{"domain":[-0.0624,1.06],"nice":false,"zero":false},"title":"probability of overall survival"},
"color":{"field":"g","type":"nominal","legend":null}
}},
{"data":{"name":"ann"},
"transform":[{"filter":"datum.p=='a'"}],
"mark":{"type":"rule","strokeWidth":1.5},
"encoding":{
"x":{"field":"x","type":"quantitative","scale":{"domain":[-8.11,148.0],"nice":false,"zero":false},"title":"months after SCT"},
"y":{"field":"y","type":"quantitative","scale":{"domain":[-0.0624,1.06],"nice":false,"zero":false},"title":"probability of overall survival"},
"x2":{"field":"x2"},"y2":{"field":"y2"},
"stroke":{"field":"lab","type":"nominal","scale":{"domain":["MRD","10/10MUD","9/10MMUD","8/10MMUD","< 8/10MMUD"],"range":["#1c2b5e","#19ad6a","#7b7a4d","#8b4fc8","#e41f1c"]},"legend":null}
}},
{"data":{"name":"ann"},
"transform":[{"filter":"datum.p=='a'"},{"calculate":"atan2((datum.x2-datum.x)*4.56,(datum.y2-datum.y)*449)*180/PI","as":"ang"}],
"mark":{"type":"point","shape":"triangle","filled":true,"size":60,"opacity":1},
"encoding":{
"x":{"field":"x2","type":"quantitative","scale":{"domain":[-8.11,148.0],"nice":false,"zero":false},"title":"months after SCT"},
"y":{"field":"y2","type":"quantitative","scale":{"domain":[-0.0624,1.06],"nice":false,"zero":false},"title":"probability of overall survival"},
"angle":{"field":"ang","type":"quantitative","scale":null},
"fill":{"field":"lab","type":"nominal","scale":{"domain":["MRD","10/10MUD","9/10MMUD","8/10MMUD","< 8/10MMUD"],"range":["#1c2b5e","#19ad6a","#7b7a4d","#8b4fc8","#e41f1c"]},"legend":null}
}},
{"data":{"name":"ann"},
"transform":[{"filter":"datum.p=='a'"}],
"mark":{"type":"text","fontSize":17,"font":"Liberation Sans","color":"#222","align":"center","baseline":"middle"},
"encoding":{
"x":{"field":"tx","type":"quantitative","scale":{"domain":[-8.11,148.0],"nice":false,"zero":false},"title":"months after SCT"},
"y":{"field":"ty","type":"quantitative","scale":{"domain":[-0.0624,1.06],"nice":false,"zero":false},"title":"probability of overall survival"},
"text":{"field":"lab"}
}}
]
},
{
"width":712,"height":492,
"view":{"stroke":"#555","strokeWidth":1.8},
"title":{"text":"b","anchor":"start","frame":"group","fontSize":26,"fontWeight":"bold","font":"Liberation Sans","color":"#111","dx":-46,"offset":13},
"layer":[
{"data":{"name":"km"},
"transform":[{"filter":{"field":"g","oneOf":["MRD","10/10MUD","DQB1-mismatch","C0303 vs. C0304","DRB1-mismatch","A-mismatch","B-mismatch","C-mismatch"]}}],
"mark":{"type":"line","interpolate":"step-after"},
"encoding":{
"x":{"field":"t","type":"quantitative","scale":{"domain":[-8.98,147.0],"nice":false,"zero":false},"title":"months after SCT",
"axis":{"values":[0,25,50,75,100,125],"labelExpr":"datum.value==0 ? ',0' : replace(format(datum.value,'.1f'),'.',',')","grid":false,"domain":false,"tickSize":8,"tickColor":"#555","tickWidth":1.5,"labelFont":"Liberation Sans","labelFontSize":12,"labelColor":"#555","labelPadding":4,"titleFont":"Liberation Sans","titleFontWeight":"bold","titleFontSize":20,"titleColor":"#222","titlePadding":7}},
"y":{"field":"s","type":"quantitative","scale":{"domain":[-0.054,1.054],"nice":false,"zero":false},"title":"probability of overall survival",
"axis":{"values":[0,0.2,0.4,0.6,0.8,1.0],"labelExpr":"replace(format(datum.value,'.1f'),'.',',')","grid":false,"domain":false,"tickSize":8,"tickColor":"#555","tickWidth":1.5,"labelFont":"Liberation Sans","labelFontSize":12,"labelColor":"#555","labelPadding":2,"titleFont":"Liberation Sans","titleFontWeight":"bold","titleFontSize":18,"titleColor":"#222","titlePadding":12}},
"color":{"field":"g","type":"nominal","scale":{"domain":["MRD","10/10MUD","DQB1-mismatch","C0303 vs. C0304","DRB1-mismatch","A-mismatch","B-mismatch","C-mismatch"],"range":["#3f51b0","#35b04a","#5ec8cc","#a01d22","#e8606a","#222222","#9a62a8","#7b2a8c"]},"legend":null},
"strokeWidth":{"condition":[{"test":"datum.g=='MRD' || datum.g=='10/10MUD'","value":4},{"test":"datum.g=='C0303 vs. C0304' || datum.g=='C-mismatch'","value":3},{"test":"datum.g=='A-mismatch'","value":2}],"value":1.4}
}},
{"data":{"name":"km"},
"transform":[{"filter":{"field":"g","oneOf":["MRD","10/10MUD","DQB1-mismatch","C0303 vs. C0304","DRB1-mismatch","A-mismatch","B-mismatch","C-mismatch"]}},{"filter":"datum.c==1"}],
"mark":{"type":"tick","orient":"vertical","thickness":1.2,"size":8},
"encoding":{
"x":{"field":"t","type":"quantitative","scale":{"domain":[-8.98,147.0],"nice":false,"zero":false},"title":"months after SCT"},
"y":{"field":"s","type":"quantitative","scale":{"domain":[-0.054,1.054],"nice":false,"zero":false},"title":"probability of overall survival"},
"color":{"field":"g","type":"nominal","legend":null}
}},
{"data":{"name":"ann"},
"transform":[{"filter":"datum.p=='b'"}],
"mark":{"type":"rule","strokeWidth":2},
"encoding":{
"x":{"field":"x","type":"quantitative","scale":{"domain":[-8.98,147.0],"nice":false,"zero":false},"title":"months after SCT"},
"y":{"field":"y","type":"quantitative","scale":{"domain":[-0.054,1.054],"nice":false,"zero":false},"title":"probability of overall survival"},
"x2":{"field":"x2"},"y2":{"field":"y2"},
"stroke":{"field":"lab","type":"nominal","scale":{"domain":["10/10MUD","C0303 vs. C0304","DQB1-mismatch","MRD","DRB1-mismatch","B-mismatch","A-mismatch","C-mismatch"],"range":["#17ad55","#9b1b1b","#1aa6df","#1a69b6","#f01818","#8a3db0","#111111","#8a3db0"]},"legend":null}
}},
{"data":{"name":"ann"},
"transform":[{"filter":"datum.p=='b'"},{"calculate":"atan2((datum.x2-datum.x)*4.565,(datum.y2-datum.y)*445)*180/PI","as":"ang"}],
"mark":{"type":"point","shape":"triangle","filled":true,"size":60,"opacity":1},
"encoding":{
"x":{"field":"x2","type":"quantitative","scale":{"domain":[-8.98,147.0],"nice":false,"zero":false},"title":"months after SCT"},
"y":{"field":"y2","type":"quantitative","scale":{"domain":[-0.054,1.054],"nice":false,"zero":false},"title":"probability of overall survival"},
"angle":{"field":"ang","type":"quantitative","scale":null},
"fill":{"field":"lab","type":"nominal","scale":{"domain":["10/10MUD","C0303 vs. C0304","DQB1-mismatch","MRD","DRB1-mismatch","B-mismatch","A-mismatch","C-mismatch"],"range":["#17ad55","#9b1b1b","#1aa6df","#1a69b6","#f01818","#8a3db0","#111111","#8a3db0"]},"legend":null}
}},
{"data":{"name":"ann"},
"transform":[{"filter":"datum.p=='b'"}],
"mark":{"type":"text","fontSize":17,"font":"Liberation Sans","color":"#222","align":"center","baseline":"middle"},
"encoding":{
"x":{"field":"tx","type":"quantitative","scale":{"domain":[-8.98,147.0],"nice":false,"zero":false},"title":"months after SCT"},
"y":{"field":"ty","type":"quantitative","scale":{"domain":[-0.054,1.054],"nice":false,"zero":false},"title":"probability of overall survival"},
"text":{"field":"lab"}
}}
]
}
]
}
